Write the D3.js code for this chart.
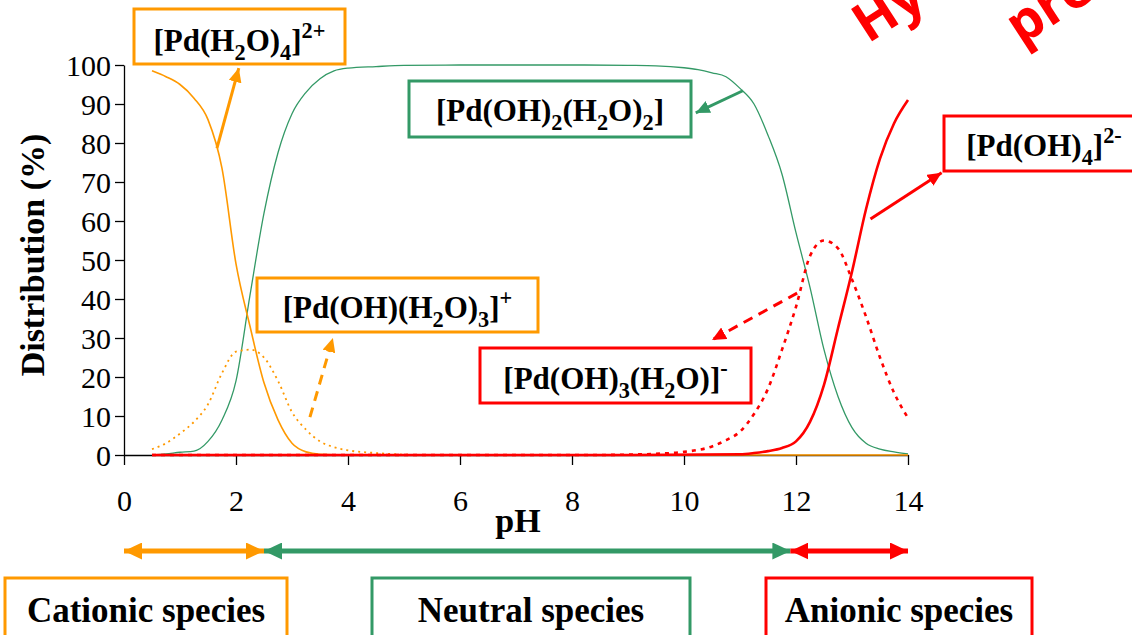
<!DOCTYPE html>
<html>
<head>
<meta charset="utf-8">
<script src="https://cdn.jsdelivr.net/npm/d3@7"></script>
<style>
  body { margin: 0; background: #fff; }
  svg { display: block; }
</style>
</head>
<body>
<div id="chart"></div>
<script>
// pH grid and distribution of each Pd(II) species (%)
const phCation = [0.5, 0.75, 1, 1.25, 1.5, 1.75, 2, 2.25, 2.5, 2.75, 3, 3.25, 3.5, 4, 5, 8, 11, 14];
const pdAqua = [98.5, 97, 95, 91.5, 86, 73.5, 49, 33, 18.5, 9, 3, 0.8, 0.2, 0, 0, 0, 0, 0];

const phMono = [0.5, 0.75, 1, 1.25, 1.5, 1.75, 2, 2.25, 2.5, 2.75, 3, 3.25, 3.5, 3.75, 4, 4.5, 5, 5.5, 6];
const pdMonoHydroxo = [1.5, 3, 5.5, 8.5, 13, 21, 26.5, 27, 25, 19, 11, 6.5, 3.5, 2, 1.2, 0.5, 0.1, 0, 0];

const phNeutral = [0.5, 0.75, 1, 1.25, 1.5, 1.75, 2, 2.25, 2.5, 2.75, 3, 3.25, 3.5, 3.75, 4, 4.5, 5, 6, 7, 8, 9, 9.5, 10, 10.25, 10.5, 10.75, 11, 11.25, 11.5, 11.75, 12, 12.25, 12.5, 12.75, 13, 13.25, 13.5, 13.75, 14];
const pdNeutral = [0, 0.3, 0.7, 1, 3.5, 9, 19, 41, 62, 77.5, 87.5, 93, 96.5, 98.5, 99.2, 99.6, 99.9, 100, 100, 100, 99.9, 99.8, 99.3, 98.8, 98, 97, 94, 90, 82, 72, 57, 43, 27, 15, 7, 3, 1.5, 0.8, 0.3];

const phTri = [0.5, 4, 8.5, 9, 9.5, 10, 10.5, 10.75, 11, 11.25, 11.5, 11.75, 12, 12.25, 12.5, 12.75, 13, 13.25, 13.5, 13.75, 14];
const pdTriHydroxo = [0, 0, 0, 0.1, 0.3, 0.8, 2.2, 3.8, 6, 10.5, 17, 27, 38, 51, 55, 53, 45, 35.5, 25, 16, 9.5];

const phAnion = [0.5, 4, 9, 11, 11.25, 11.5, 11.75, 12, 12.25, 12.5, 12.75, 13, 13.25, 13.5, 13.75, 14];
const pdTetraHydroxo = [0, 0, 0, 0.2, 0.5, 1, 1.8, 3.5, 8.5, 18, 32.5, 47, 63, 76, 85, 91];

const xTicks = [0, 2, 4, 6, 8, 10, 12, 14];
const yTicks = [0, 10, 20, 30, 40, 50, 60, 70, 80, 90, 100];

// pH ranges of the three groups of species
const groupNames = ["Cationic species", "Neutral species", "Anionic species"];
const groupRanges = [[0, 2.5], [2.5, 11.9], [11.9, 14]];

const orange = "#ff9900";
const green = "#339966";
const red = "#ff0000";
const serif = '"Liberation Serif", "Times New Roman", serif';
const sans = '"Open Sans", "DejaVu Sans", sans-serif';

const width = 1132;
const height = 635;
const margin = { top: 65, right: 224, bottom: 180, left: 124 };
const plotW = width - margin.left - margin.right;
const plotH = height - margin.top - margin.bottom;

const svg = d3.select("#chart")
  .append("svg")
  .attr("width", width)
  .attr("height", height)
  .style("font-family", serif);

const defs = svg.append("defs");
function addMarker(id, color, len, wid) {
  defs.append("marker")
    .attr("id", id)
    .attr("markerUnits", "userSpaceOnUse")
    .attr("viewBox", `0 0 ${len} ${wid}`)
    .attr("markerWidth", len)
    .attr("markerHeight", wid)
    .attr("refX", len)
    .attr("refY", wid / 2)
    .attr("orient", "auto-start-reverse")
    .append("path")
    .attr("d", `M0,0L${len},${wid / 2}L0,${wid}Z`)
    .attr("fill", color);
}
addMarker("hOrange", orange, 14, 13);
addMarker("hGreen", green, 14, 13);
addMarker("hRed", red, 14, 13);
addMarker("bOrange", orange, 18, 17);
addMarker("bGreen", green, 18, 17);
addMarker("bRed", red, 18, 17);

const g = svg.append("g")
  .attr("transform", `translate(${margin.left},${margin.top})`);

const x = d3.scaleLinear().domain([0, 14]).range([0, plotW]);
const y = d3.scaleLinear().domain([0, 100]).range([plotH, 0]);

// axes
const xAxis = g.append("g")
  .attr("transform", `translate(0,${plotH})`)
  .call(d3.axisBottom(x).tickValues(xTicks).tickSize(10).tickSizeOuter(0).tickPadding(25));
const yAxis = g.append("g")
  .call(d3.axisLeft(y).tickValues(yTicks).tickSize(9).tickSizeOuter(0).tickPadding(4));

[xAxis, yAxis].forEach(a => {
  a.attr("font-family", null).attr("font-size", null);
  a.select(".domain").attr("stroke", "#000").attr("stroke-width", 1.3);
  a.selectAll(".tick line").attr("stroke", "#000").attr("stroke-width", 1.3);
  a.selectAll(".tick text")
    .style("font-family", serif)
    .style("font-size", "30px")
    .attr("fill", "#000");
});
yAxis.selectAll(".tick text").attr("dy", "0.34em");

g.append("text")
  .attr("transform", `translate(-80,${plotH / 2 - 5}) rotate(-90)`)
  .attr("text-anchor", "middle")
  .style("font-size", "34px")
  .style("font-weight", "bold")
  .text("Distribution (%)");

g.append("text")
  .attr("x", x(7) + 2)
  .attr("y", plotH + 77)
  .attr("text-anchor", "middle")
  .style("font-size", "34px")
  .style("font-weight", "bold")
  .text("pH");

// curves
const line = d3.line()
  .x(d => x(d[0]))
  .y(d => y(d[1]))
  .curve(d3.curveMonotoneX);

const series = [
  { ph: phNeutral, v: pdNeutral, color: green, w: 1.3, dash: null },
  { ph: phCation, v: pdAqua, color: orange, w: 1.6, dash: null },
  { ph: phMono, v: pdMonoHydroxo, color: orange, w: 1.8, dash: "2,4" },
  { ph: phTri, v: pdTriHydroxo, color: red, w: 2.6, dash: "4,5" },
  { ph: phAnion, v: pdTetraHydroxo, color: red, w: 2.6, dash: null }
];

g.selectAll(".curve")
  .data(series)
  .enter()
  .append("path")
  .attr("class", "curve")
  .attr("d", s => line(s.ph.map((p, i) => [p, s.v[i]])))
  .attr("fill", "none")
  .attr("stroke", s => s.color)
  .attr("stroke-width", s => s.w)
  .attr("stroke-dasharray", s => s.dash);

// species labels (boxes in page pixels, text parts: 0 normal, 1 sub, 2 sup)
const labels = [
  { box: [134, 9, 211, 55], color: orange, base: 51,
    parts: [["[Pd(H", 0], ["2", 1], ["O)", 0], ["4", 1], ["]", 0], ["2+", 2]] },
  { box: [409, 81, 282, 56], color: green, base: 121,
    parts: [["[Pd(OH)", 0], ["2", 1], ["(H", 0], ["2", 1], ["O)", 0], ["2", 1], ["]", 0]] },
  { box: [257, 278, 281, 54], color: orange, base: 318,
    parts: [["[Pd(OH)(H", 0], ["2", 1], ["O)", 0], ["3", 1], ["]", 0], ["+", 2]] },
  { box: [944, 116, 200, 55], color: red, base: 156,
    parts: [["[Pd(OH)", 0], ["4", 1], ["]", 0], ["2-", 2]] },
  { box: [480, 348, 271, 55], color: red, base: 389,
    parts: [["[Pd(OH)", 0], ["3", 1], ["(H", 0], ["2", 1], ["O)]", 0], ["-", 2]] }
];

const fs = 31;
labels.forEach(l => {
  const [bx, by, bw, bh] = l.box;
  svg.append("rect")
    .attr("x", bx).attr("y", by)
    .attr("width", bw).attr("height", bh)
    .attr("fill", "#fff")
    .attr("stroke", l.color)
    .attr("stroke-width", 3);
  const t = svg.append("text")
    .attr("x", bx + bw / 2)
    .attr("y", l.base)
    .attr("text-anchor", "middle")
    .style("font-size", fs + "px")
    .style("font-weight", "bold");
  let off = 0;
  l.parts.forEach(([s, k]) => {
    const target = k === 1 ? 0.28 * fs : k === 2 ? -0.42 * fs : 0;
    t.append("tspan")
      .attr("dy", target - off)
      .style("font-size", (k === 0 ? fs : fs * 0.72) + "px")
      .text(s);
    off = target;
  });
});

// arrows from curves to labels, in data coordinates
const pointers = [
  { from: [1.66, 78.7], to: [2.05, 99.2], color: orange, marker: "hOrange", dash: null },
  { from: [11.05, 93.4], to: [10.21, 87.7], color: green, marker: "hGreen", dash: null },
  { from: [3.32, 9.7], to: [3.73, 30], color: orange, marker: "hOrange", dash: "10,7" },
  { from: [12.02, 41.5], to: [10.5, 29.5], color: red, marker: "hRed", dash: "10,7" },
  { from: [13.33, 60.5], to: [14.6, 72.4], color: red, marker: "hRed", dash: null }
];

g.selectAll(".pointer")
  .data(pointers)
  .enter()
  .append("line")
  .attr("class", "pointer")
  .attr("x1", d => x(d.from[0]))
  .attr("y1", d => y(d.from[1]))
  .attr("x2", d => x(d.to[0]))
  .attr("y2", d => y(d.to[1]))
  .attr("stroke", d => d.color)
  .attr("stroke-width", 3)
  .attr("stroke-dasharray", d => d.dash)
  .attr("marker-end", d => `url(#${d.marker})`);

// pH ranges of species groups
const groupColors = [orange, green, red];
const groupMarkers = ["bOrange", "bGreen", "bRed"];
const groupBoxes = [[5, 578, 282], [372, 578, 318], [766, 578, 266]];

g.selectAll(".range")
  .data(groupRanges)
  .enter()
  .append("line")
  .attr("class", "range")
  .attr("x1", d => x(d[0]))
  .attr("x2", d => x(d[1]))
  .attr("y1", 551 - margin.top)
  .attr("y2", 551 - margin.top)
  .attr("stroke", (d, i) => groupColors[i])
  .attr("stroke-width", 5)
  .attr("marker-start", (d, i) => `url(#${groupMarkers[i]})`)
  .attr("marker-end", (d, i) => `url(#${groupMarkers[i]})`);

groupNames.forEach((name, i) => {
  const [bx, by, bw] = groupBoxes[i];
  svg.append("rect")
    .attr("x", bx).attr("y", by)
    .attr("width", bw).attr("height", 80)
    .attr("fill", "none")
    .attr("stroke", groupColors[i])
    .attr("stroke-width", 3);
  svg.append("text")
    .attr("x", bx + bw / 2)
    .attr("y", 622)
    .attr("text-anchor", "middle")
    .style("font-size", "35px")
    .style("font-weight", "bold")
    .text(name);
});

// red slanted heading, cut by the top edge as in the original slide
[["Hydroxide", 868, 44], ["precipitation", 1021, 46]].forEach(([s, tx, ty]) => {
  svg.append("text")
    .attr("transform", `translate(${tx},${ty}) rotate(-33)`)
    .style("font-family", sans)
    .style("font-weight", "bold")
    .style("font-size", "54px")
    .attr("fill", red)
    .text(s);
});
</script>
</body>
</html>
